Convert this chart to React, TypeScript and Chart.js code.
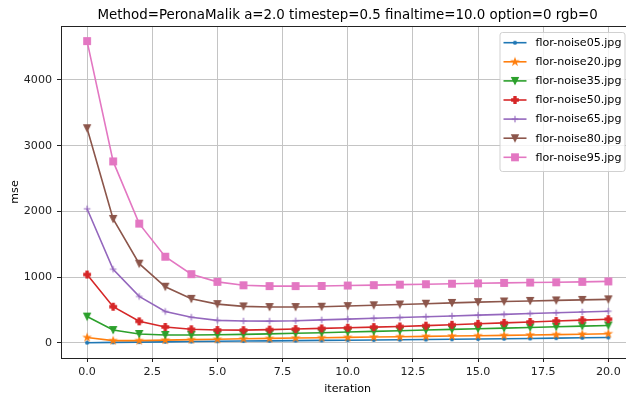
import React, { useEffect, useRef } from "react";
import { Chart, registerables } from "chart.js";

Chart.register(...registerables);

const TITLE = "Method=PeronaMalik a=2.0 timestep=0.5 finaltime=10.0 option=0 rgb=0";
const X_LABEL = "iteration";
const Y_LABEL = "mse";

const iterations = [0, 1, 2, 3, 4, 5, 6, 7, 8, 9, 10, 11, 12, 13, 14, 15, 16, 17, 18, 19, 20];
const xTicks = [0, 2.5, 5, 7.5, 10, 12.5, 15, 17.5, 20];
const yTicks = [0, 1000, 2000, 3000, 4000];

const seriesNames = [
  "flor-noise05.jpg",
  "flor-noise20.jpg",
  "flor-noise35.jpg",
  "flor-noise50.jpg",
  "flor-noise65.jpg",
  "flor-noise80.jpg",
  "flor-noise95.jpg",
];

const noise05 = [3, 8, 12, 16, 20, 24, 28, 31, 35, 38, 41, 44, 48, 51, 55, 59, 63, 67, 72, 77, 82];
const noise20 = [82, 35, 35, 42, 50, 56, 62, 68, 74, 79, 84, 89, 94, 99, 104, 109, 114, 120, 126, 132, 140];
const noise35 = [400, 195, 136, 120, 120, 124, 130, 137, 146, 155, 165, 175, 185, 195, 205, 215, 225, 235, 245, 255, 265];
const noise50 = [1040, 550, 328, 242, 207, 195, 194, 202, 210, 220, 230, 240, 250, 262, 275, 290, 305, 318, 332, 346, 360];
const noise65 = [2040, 1120, 707, 478, 390, 343, 333, 331, 336, 350, 362, 374, 386, 398, 410, 422, 434, 446, 458, 470, 482];
const noise80 = [3265, 1886, 1205, 854, 670, 590, 555, 545, 545, 550, 560, 572, 584, 596, 608, 620, 630, 638, 646, 654, 662];
const noise95 = [4590, 2760, 1814, 1311, 1045, 928, 876, 864, 864, 866, 872, 878, 886, 892, 900, 906, 912, 918, 922, 928, 935];

const seriesValues = [noise05, noise20, noise35, noise50, noise65, noise80, noise95];

const colors = ["#1f77b4", "#ff7f0e", "#2ca02c", "#d62728", "#9467bd", "#8c564b", "#e377c2"];
const markers = ["dot", "star", "tri_down", "plus_filled", "plus", "tri_down", "square"];

const FONT = '"DejaVu Sans", "Liberation Sans", sans-serif';

function makeMarker(kind: string, color: string): HTMLCanvasElement {
  const c = document.createElement("canvas");
  c.width = 14;
  c.height = 14;
  const ctx = c.getContext("2d")!;
  const cx = 7;
  const cy = 7;
  const h = 3.33;
  ctx.fillStyle = color;
  ctx.strokeStyle = color;
  ctx.lineWidth = 1.1;
  ctx.lineJoin = "miter";
  ctx.beginPath();
  if (kind === "dot") {
    ctx.arc(cx, cy, 2.1, 0, Math.PI * 2);
    ctx.fill();
    return c;
  }
  if (kind === "star") {
    const inner = h * 0.381966;
    for (let i = 0; i < 10; i++) {
      const r = i % 2 === 0 ? h : inner;
      const a = -Math.PI / 2 + (i * Math.PI) / 5;
      const px = cx + r * Math.cos(a);
      const py = cy + r * Math.sin(a);
      if (i === 0) ctx.moveTo(px, py);
      else ctx.lineTo(px, py);
    }
    ctx.closePath();
    ctx.fill();
    ctx.stroke();
    return c;
  }
  if (kind === "tri_down") {
    ctx.moveTo(cx, cy + h);
    ctx.lineTo(cx - h, cy - h);
    ctx.lineTo(cx + h, cy - h);
    ctx.closePath();
    ctx.fill();
    ctx.stroke();
    return c;
  }
  if (kind === "plus_filled") {
    const pts = [
      [-1, -3], [1, -3], [1, -1], [3, -1], [3, 1], [1, 1],
      [1, 3], [-1, 3], [-1, 1], [-3, 1], [-3, -1], [-1, -1],
    ];
    pts.forEach((p, i) => {
      const px = cx + (p[0] / 3) * h;
      const py = cy + (p[1] / 3) * h;
      if (i === 0) ctx.moveTo(px, py);
      else ctx.lineTo(px, py);
    });
    ctx.closePath();
    ctx.fill();
    ctx.stroke();
    return c;
  }
  if (kind === "plus") {
    ctx.moveTo(cx - h, cy);
    ctx.lineTo(cx + h, cy);
    ctx.moveTo(cx, cy - h);
    ctx.lineTo(cx, cy + h);
    ctx.stroke();
    return c;
  }
  if (kind === "square") {
    ctx.rect(cx - h, cy - h, 2 * h, 2 * h);
    ctx.fill();
    ctx.stroke();
    return c;
  }
  return c;
}

export default function App() {
  const ref = useRef<HTMLCanvasElement | null>(null);

  useEffect(() => {
    const canvas = ref.current;
    if (!canvas) return;
    const markerImgs = seriesNames.map((_, i) => makeMarker(markers[i], colors[i]));

    const datasets = seriesNames.map((name, i) => ({
      label: name,
      data: iterations.map((it, j) => ({ x: it, y: seriesValues[i][j] })),
      borderColor: colors[i],
      backgroundColor: colors[i],
      borderWidth: 1.6,
      pointStyle: markerImgs[i] as any,
      pointRadius: 4,
      pointHoverRadius: 4,
      tension: 0,
      fill: false,
      order: seriesNames.length - 1 - i,
    }));

    const overlay = {
      id: "overlay",
      afterDraw(chart: any) {
        const ctx = chart.ctx as CanvasRenderingContext2D;
        const ca = chart.chartArea;
        ctx.save();
        // top spine
        ctx.strokeStyle = "#222";
        ctx.lineWidth = 1;
        ctx.beginPath();
        ctx.moveTo(ca.left, Math.round(ca.top) + 0.5);
        ctx.lineTo(ca.right, Math.round(ca.top) + 0.5);
        ctx.stroke();
        // title
        ctx.fillStyle = "#000";
        ctx.font = `13.4px ${FONT}`;
        ctx.textAlign = "center";
        ctx.textBaseline = "alphabetic";
        ctx.fillText(TITLE, (ca.left + ca.right) / 2, 18.5);
        // legend
        const right = 624.5;
        const left = right - 125;
        const top = ca.top + 6;
        const height = 139;
        ctx.fillStyle = "rgba(255,255,255,0.8)";
        ctx.strokeStyle = "rgba(204,204,204,0.9)";
        ctx.lineWidth = 1;
        ctx.beginPath();
        const r = 2.5;
        const x0 = left + 0.5, y0 = top + 0.5, w = right - left, hh = height;
        ctx.moveTo(x0 + r, y0);
        ctx.lineTo(x0 + w - r, y0);
        ctx.arcTo(x0 + w, y0, x0 + w, y0 + r, r);
        ctx.lineTo(x0 + w, y0 + hh - r);
        ctx.arcTo(x0 + w, y0 + hh, x0 + w - r, y0 + hh, r);
        ctx.lineTo(x0 + r, y0 + hh);
        ctx.arcTo(x0, y0 + hh, x0, y0 + hh - r, r);
        ctx.lineTo(x0, y0 + r);
        ctx.arcTo(x0, y0, x0 + r, y0, r);
        ctx.closePath();
        ctx.fill();
        ctx.stroke();
        ctx.font = `11.1px ${FONT}`;
        ctx.textAlign = "left";
        ctx.textBaseline = "middle";
        seriesNames.forEach((name, i) => {
          const cy = top + 10.7 + i * 19.1;
          ctx.strokeStyle = colors[i];
          ctx.lineWidth = 1.6;
          ctx.beginPath();
          ctx.moveTo(left + 4, cy);
          ctx.lineTo(left + 27, cy);
          ctx.stroke();
          ctx.drawImage(markerImgs[i], left + 15.5 - 7, cy - 7);
          ctx.fillStyle = "#000";
          ctx.fillText(name, left + 36, cy + 0.5);
        });
        ctx.restore();
      },
    };

    const chart = new Chart(canvas, {
      type: "line",
      data: { datasets: datasets as any },
      options: {
        animation: false,
        responsive: false,
        devicePixelRatio: 1,
        layout: { padding: { top: 26, left: 0, right: 0, bottom: 0 } },
        plugins: {
          legend: { display: false },
          title: { display: false },
          tooltip: { enabled: false },
        },
        scales: {
          x: {
            type: "linear",
            min: -1,
            max: 21,
            afterBuildTicks: (scale: any) => {
              scale.ticks = xTicks.map((v) => ({ value: v }));
            },
            afterFit: (scale: any) => {
              scale.height = 41;
            },
            ticks: {
              autoSkip: false,
              maxRotation: 0,
              padding: 3,
              color: "#222",
              font: { family: FONT, size: 11.1 },
              callback: (v: any) => Number(v).toFixed(1),
            },
            grid: {
              color: "#c4c4c4",
              lineWidth: 1,
              tickLength: 4,
              tickColor: "#222",
              drawTicks: true,
            },
            border: { display: true, color: "#222", width: 1 },
            title: {
              display: true,
              text: X_LABEL,
              color: "#000",
              font: { family: FONT, size: 11.1 },
              padding: { top: 0, bottom: 3.3 },
            },
          },
          y: {
            type: "linear",
            min: -230,
            max: 4820,
            afterBuildTicks: (scale: any) => {
              scale.ticks = yTicks.map((v) => ({ value: v }));
            },
            afterFit: (scale: any) => {
              scale.width = 61;
            },
            ticks: {
              autoSkip: false,
              padding: 5,
              color: "#222",
              font: { family: FONT, size: 11.1 },
              callback: (v: any) => String(v),
            },
            grid: {
              color: "#c4c4c4",
              lineWidth: 1,
              tickLength: 4,
              tickColor: "#222",
              drawTicks: true,
            },
            border: { display: true, color: "#222", width: 1 },
            title: {
              display: true,
              text: Y_LABEL,
              color: "#000",
              font: { family: FONT, size: 11.1 },
              padding: { top: 8.3, bottom: 0 },
            },
          },
        },
      },
      plugins: [overlay],
    });

    return () => {
      chart.destroy();
    };
  }, []);

  return (
    <div
      style={{
        position: "absolute",
        left: 0,
        top: 0,
        width: 626,
        height: 399,
        overflow: "hidden",
        background: "#fff",
      }}
    >
      <canvas ref={ref} width={640} height={399} style={{ width: 640, height: 399, display: "block" }} />
    </div>
  );
}
